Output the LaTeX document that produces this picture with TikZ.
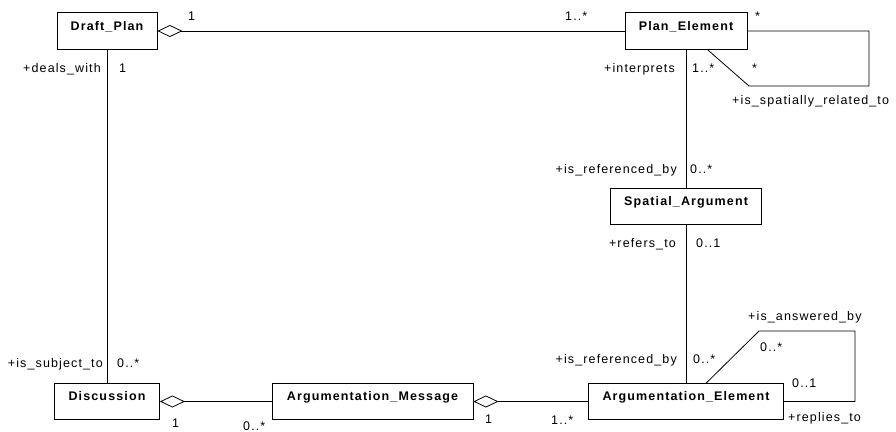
\documentclass[tikz,border=0pt]{standalone}
\usepackage{fontspec}
\setmainfont{Liberation Sans}[LetterSpace=9]
\usetikzlibrary{arrows.meta}

\begin{document}
\begin{tikzpicture}[x=1pt,y=-1pt,
  every node/.style={font=\fontsize{12.5}{14}\selectfont},
  cls/.style={draw,line width=0.8pt,font=\fontsize{12.5}{14}\selectfont\bfseries,
    inner xsep=0pt,inner ysep=0pt,text height=17.5pt,text depth=19pt},
  role/.style={inner sep=0pt},
  assoc/.style={line width=0.8pt},
  aggr/.style={line width=0.8pt,{Diamond[open,length=25pt,width=12pt]}-}]
  \useasboundingbox[fill=white] (0,0) rectangle (896,431);
  % classes
  \node[cls,minimum width=100pt] (dp) at (107,31) {Draft\_Plan};
  \node[cls,minimum width=122pt] (pe) at (686,31) {Plan\_Element};
  \node[cls,minimum width=151pt] (sa) at (686,206.5) {Spatial\_Argument};
  \node[cls,minimum width=105pt] (disc) at (107,401.5) {Discussion};
  \node[cls,minimum width=201pt] (am) at (372.5,401.5) {Argumentation\_Message};
  \node[cls,minimum width=195pt] (ae) at (686,401.5) {Argumentation\_Element};
  % loop corners
  \coordinate (pe1) at (869,31);
  \coordinate (pe2) at (869,86);
  \coordinate (pe3) at (749,86);
  \coordinate (pe4) at (707,49.25);
  \coordinate (ae1) at (855,401.5);
  \coordinate (ae2) at (855,331);
  \coordinate (ae3) at (759,331);
  \coordinate (ae4) at (706,383.25);
  % associations
  \draw[aggr] (dp) -- (pe);
  \draw[assoc] (dp) -- (disc);
  \draw[assoc] (pe) -- (sa);
  \draw[assoc] (sa) -- (ae);
  \draw[aggr] (disc) -- (am);
  \draw[aggr] (am) -- (ae);
  \draw[assoc] (pe.east) -- (pe1) -- (pe2) -- (pe3) -- (pe4);
  \draw[assoc] (ae.east) -- (ae1) -- (ae2) -- (ae3) -- (ae4);
  % roles and multiplicities
  \node[role,anchor=base west] (m1) at (188,20) {1};
  \node[role,anchor=base west] (m2) at (565,20) {1..*};
  \node[role,anchor=base west] (m3) at (755,20) {*};
  \node[role,anchor=base east] (r1) at (101,72) {+deals\_with};
  \node[role,anchor=base west] (m4) at (119,72) {1};
  \node[role,anchor=base east] (r2) at (675,72) {+interprets};
  \node[role,anchor=base west] (m5) at (692,72) {1..*};
  \node[role,anchor=base west] (m6) at (752,72) {*};
  \node[role,anchor=base west] (r3) at (732,104) {+is\_spatially\_related\_to};
  \node[role,anchor=base east] (r4) at (677,173) {+is\_referenced\_by};
  \node[role,anchor=base west] (m7) at (690,173) {0..*};
  \node[role,anchor=base east] (r5) at (676,247) {+refers\_to};
  \node[role,anchor=base west] (m8) at (696,247) {0..1};
  \node[role,anchor=base east] (r6) at (103,367) {+is\_subject\_to};
  \node[role,anchor=base west] (m9) at (117,367) {0..*};
  \node[role,anchor=base west] (m10) at (172,427) {1};
  \node[role,anchor=base west] (m11) at (243,430) {0..*};
  \node[role,anchor=base west] (m12) at (485,423) {1};
  \node[role,anchor=base west] (m13) at (551,424) {1..*};
  \node[role,anchor=base east] (r7) at (677,363) {+is\_referenced\_by};
  \node[role,anchor=base west] (m14) at (693,363) {0..*};
  \node[role,anchor=base west] (r8) at (748,320) {+is\_answered\_by};
  \node[role,anchor=base west] (m15) at (760,351) {0..*};
  \node[role,anchor=base west] (m16) at (792,387) {0..1};
  \node[role,anchor=base west] (r9) at (788,421) {+replies\_to};
\end{tikzpicture}
\end{document}
